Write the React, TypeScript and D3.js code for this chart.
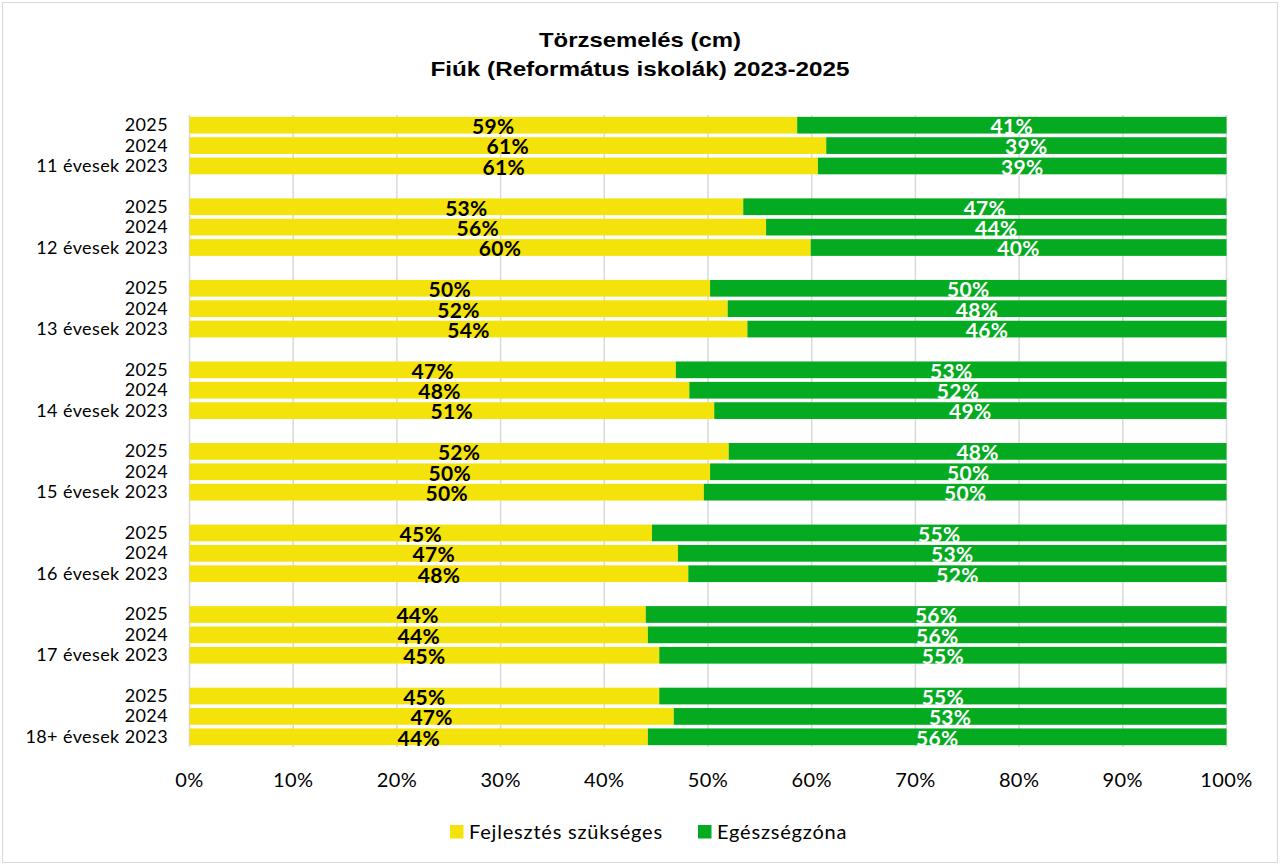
import React from 'react';
import * as d3 from 'd3';

const ageGroups = ['11', '12', '13', '14', '15', '16', '17', '18+'];
const years = ['2025', '2024', '2023'];
// Fejlesztés szükséges (%), per age group in order 2025, 2024, 2023
const fejlesztes = [
  [58.6, 61.4, 60.6],
  [53.4, 55.6, 59.9],
  [50.2, 51.9, 53.8],
  [46.9, 48.2, 50.6],
  [52.0, 50.2, 49.6],
  [44.6, 47.1, 48.1],
  [44.0, 44.2, 45.3],
  [45.3, 46.7, 44.2],
];
// Egészségzóna (%)
const egeszseg = [
  [41.4, 38.6, 39.4],
  [46.6, 44.4, 40.1],
  [49.8, 48.1, 46.2],
  [53.1, 51.8, 49.4],
  [48.0, 49.8, 50.4],
  [55.4, 52.9, 51.9],
  [56.0, 55.8, 54.7],
  [54.7, 53.3, 55.8],
];
const xTicks = [0, 10, 20, 30, 40, 50, 60, 70, 80, 90, 100];
const seriesNames = ['Fejlesztés szükséges', 'Egészségzóna'];
const titleLines = ['Törzsemelés (cm)', 'Fiúk (Református iskolák) 2023-2025'];
const titleWidths = [202, 419];

const YELLOW = '#F4E30B';
const GREEN = '#04AA1F';
const FONT = 'Lato, "Open Sans", sans-serif';

type Row = { key: string; label: string; y1?: number; y2?: number; blank?: boolean };

const rows: Row[] = [];
ageGroups.forEach((age, gi) => {
  years.forEach((yr, yi) => {
    rows.push({
      key: `${age}-${yr}`,
      label: yi === 2 ? `${age} évesek ${yr}` : yr,
      y1: fejlesztes[gi][yi],
      y2: egeszseg[gi][yi],
    });
  });
  if (gi < ageGroups.length - 1) rows.push({ key: `gap-${gi}`, label: '', blank: true });
});

export default function App() {
  const W = 1280;
  const H = 865;
  const left = 189.5;
  const right = 1226.5;
  const top = 115;
  const bottom = 747;

  const x = d3.scaleLinear().domain([0, 100]).range([left, right]);
  const y = d3
    .scaleBand<string>()
    .domain(rows.map((r) => r.key))
    .range([top, bottom])
    .paddingInner(0.18)
    .paddingOuter(0.09);
  const bw = y.bandwidth();

  return (
    <svg
      width={W}
      height={H}
      style={{ position: 'absolute', left: 0, top: 0, background: '#fff' }}
    >
      <rect x={2.5} y={2.5} width={W - 5} height={H - 5} fill="#fff" stroke="#d9d9d9" />
      {titleLines.map((t, i) => (
        <text
          key={i}
          x={640 - titleWidths[i] / 2}
          y={47 + i * 29}
          textLength={titleWidths[i]}
          lengthAdjust="spacingAndGlyphs"
          fontFamily="'Liberation Sans', Arial, sans-serif"
          fontWeight="bold"
          fontSize={21}
          fill="#000"
        >
          {t}
        </text>
      ))}
      {xTicks.map((t) => (
        <line
          key={t}
          x1={x(t)}
          x2={x(t)}
          y1={top}
          y2={bottom}
          stroke="#d9d9d9"
          strokeWidth={1.5}
        />
      ))}
      {rows.map((r) => {
        if (r.blank) return null;
        const yy = y(r.key)!;
        const x0 = x(0);
        const x1 = x(r.y1!);
        const x2 = x(r.y1! + r.y2!);
        return (
          <g key={r.key}>
            <rect x={x0} y={yy} width={x1 - x0} height={bw} fill={YELLOW} />
            <rect x={x1} y={yy} width={x2 - x1} height={bw} fill={GREEN} />
            <text
              x={(x0 + x1) / 2}
              y={yy + bw + 0.5}
              textAnchor="middle"
              fontFamily={FONT}
              fontWeight="bold"
              fontSize={21}
              letterSpacing={0.3}
              fill="#000"
            >
              {Math.round(r.y1!)}%
            </text>
            <text
              x={(x1 + x2) / 2}
              y={yy + bw + 0.5}
              textAnchor="middle"
              fontFamily={FONT}
              fontWeight="bold"
              fontSize={21}
              letterSpacing={0.3}
              fill="#fff"
            >
              {Math.round(r.y2!)}%
            </text>
            <text
              x={168}
              y={yy + bw / 2 + 6}
              textAnchor="end"
              fontFamily={FONT}
              fontSize={18}
              letterSpacing={0.4}
              fill="#000"
            >
              {r.label}
            </text>
          </g>
        );
      })}
      {xTicks.map((t) => (
        <text
          key={t}
          x={x(t)}
          y={786.5}
          textAnchor="middle"
          fontFamily={FONT}
          fontSize={20}
          letterSpacing={0.4}
          fill="#000"
        >
          {t}%
        </text>
      ))}
      <g>
        <rect x={450} y={825} width={13.5} height={13.5} fill={YELLOW} />
        <text x={469} y={839} fontFamily={FONT} fontSize={20} letterSpacing={0.8} fill="#000">
          {seriesNames[0]}
        </text>
        <rect x={698} y={825} width={13.5} height={13.5} fill={GREEN} />
        <text x={717} y={839} fontFamily={FONT} fontSize={20} letterSpacing={0.8} fill="#000">
          {seriesNames[1]}
        </text>
      </g>
    </svg>
  );
}
